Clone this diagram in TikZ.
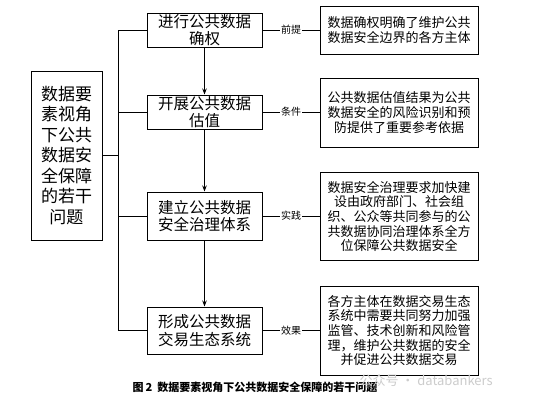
\documentclass[tikz,border=0pt]{standalone}
\usepackage{fontspec}
\setmainfont{Noto Sans CJK SC}
\usetikzlibrary{arrows.meta}
\begin{document}
\begin{tikzpicture}[x=1pt,y=-1pt,
  box/.style={draw=black, line width=1pt, fill=white, align=center, inner sep=0pt},
  lbox/.style={box, minimum width=71pt, minimum height=169pt, font=\fontsize{17}{20.5}\selectfont},
  mbox/.style={box, minimum width=115pt, font=\fontsize{15.5}{17.6}\selectfont},
  rbox/.style={box, minimum width=158pt, font=\fontsize{13}{14.7}\selectfont},
  conn/.style={draw=black, line width=0.9pt},
  arr/.style={conn, -{Stealth[length=6pt,width=4.5pt]}},
  lab/.style={fill=white, inner sep=1pt, font=\fontsize{10}{11}\selectfont}
]
\useasboundingbox (0,0) rectangle (538,402);
\fill[white] (0,0) rectangle (538,402);

\node[lbox] (L) at (66.5,155.5) {数据要\\素视角\\下公共\\数据安\\全保障\\的若干\\问题};

\node[mbox, minimum height=34pt] (m1) at (204.5,30) {进行公共数据\\确权};
\node[mbox, minimum height=34pt] (m2) at (204.5,112) {开展公共数据\\估值};
\node[mbox, minimum height=48pt] (m3) at (204.5,216) {建立公共数据\\安全治理体系};
\node[mbox, minimum height=47pt] (m4) at (204.5,330.5) {形成公共数据\\交易生态系统};

\node[rbox, minimum height=48pt] (r1) at (399,30) {数据确权明确了维护公共\\数据安全边界的各方主体};
\node[rbox, minimum height=69pt] (r2) at (399,112.5) {公共数据估值结果为公共\\数据安全的风险识别和预\\防提供了重要参考依据};
\node[rbox, minimum height=88pt] (r3) at (399,216.5) {数据安全治理要求加快建\\设由政府部门、社会组\\织、公众等共同参与的公\\共数据协同治理体系全方\\位保障公共数据安全};
\node[rbox, minimum height=89pt] (r4) at (399,330.5) {各方主体在数据交易生态\\系统中需要共同努力加强\\监管、技术创新和风险管\\理，维护公共数据的安全\\并促进公共数据交易};

\coordinate (bus) at (118.5,0);
\draw[conn] (m1.west) -- (m1.west -| bus) -- (m4.west -| bus) -- (m4.west);
\draw[conn] (m2.west) -- (m2.west -| bus);
\draw[conn] (m3.west) -- (m3.west -| bus);
\draw[conn, line width=1.8pt] (L.east) -- (L.east -| bus);

\draw[arr] (m1.south) -- (m2.north);
\draw[arr] (m2.south) -- (m3.north);
\draw[arr] (m3.south) -- (m4.north);

\draw[conn] (m1.east) -- node[lab] (t1) {前提} (m1.east -| r1.west);
\draw[conn] (m2.east) -- node[lab] (t2) {条件} (m2.east -| r2.west);
\draw[conn] (m3.east) -- node[lab] (t3) {实践} (m3.east -| r3.west);
\draw[conn] (m4.east) -- node[lab] (t4) {效果} (m4.east -| r4.west);

\node[font=\fontsize{11}{12}\selectfont\bfseries] (cap) at (255,387) {图\,2\ \ 数据要素视角下公共数据安全保障的若干问题};
\node[text=black!20, font=\fontsize{13}{14}\selectfont, anchor=west] (wm) at (356,381) {公众号 · databankers};
\end{tikzpicture}
\end{document}
